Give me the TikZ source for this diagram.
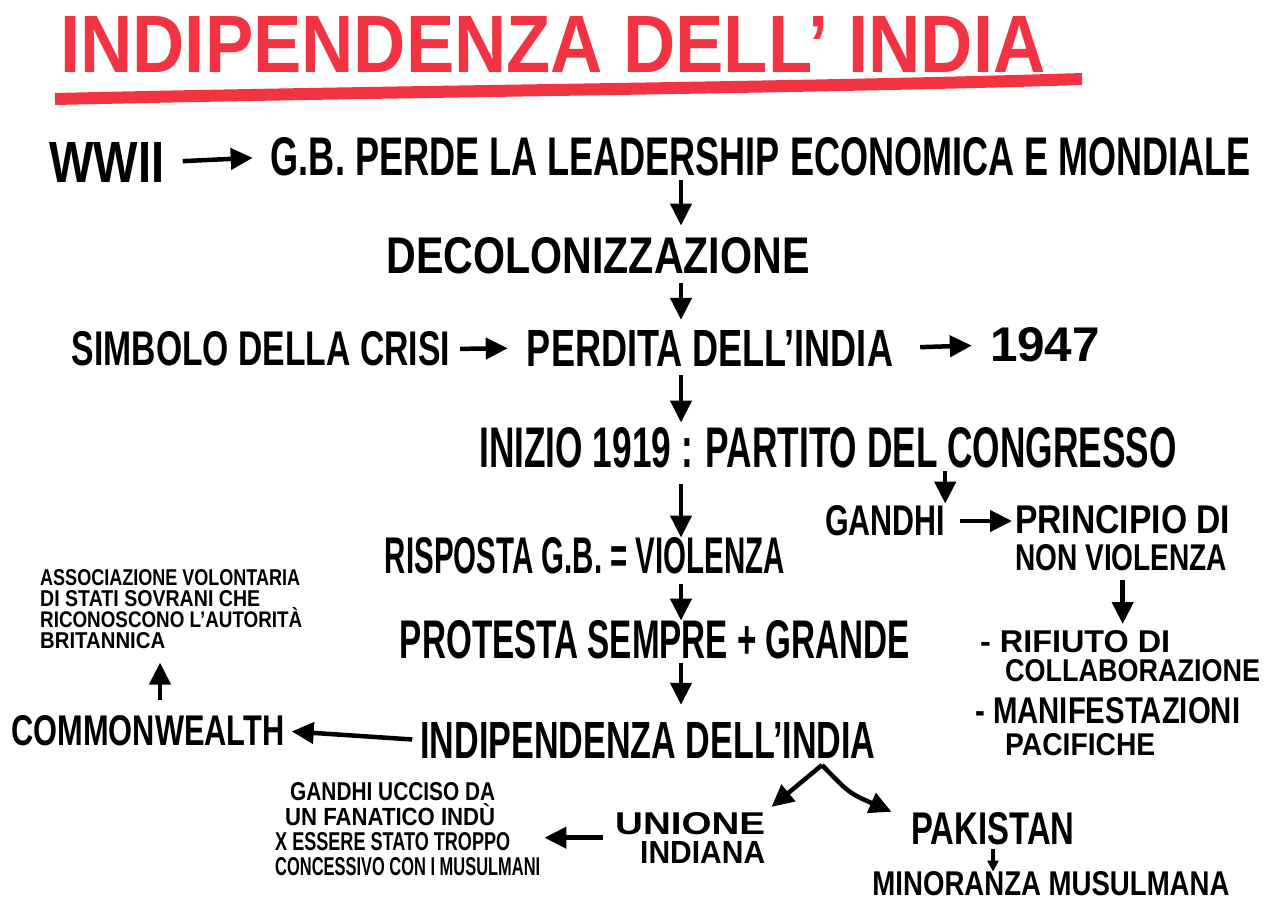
\documentclass[tikz,border=0pt]{standalone}
\usepackage{fontspec}
\setmainfont{Liberation Sans}
\usepackage{tikz}
\usetikzlibrary{arrows.meta}
\tikzset {>={Triangle[length=22pt,width=21pt]}}
\definecolor{marker}{RGB}{242,52,66}
\newcommand{\hw}[3]{\resizebox{#1pt}{#2pt}{#3}}

\begin{document}
\setlength{\lineskiplimit}{-50pt}
\begin{tikzpicture}[x=1pt,y=-1pt,
  txt/.style={inner sep=0pt,font=\bfseries},
  lines/.style={inner sep=0pt,align=left,anchor=north west,font=\bfseries\fontsize{10pt}{#1}\selectfont},
  arr/.style={->,line width=4.5pt,shorten <=8pt,shorten >=10pt}]
\fill[white] (0,0) rectangle (1280,905);
\coordinate (spine) at (681,0);
\coordinate (fork) at (822,765);

\node[txt,text=marker] (title) at (553,44) {\hw{985}{56}{INDIPENDENZA DELL' INDIA}};
\draw[marker,line width=12pt] (55,99) .. controls (400,91) and (800,88) .. (1082,79);

\node[txt] (wwii) at (107,162) {\hw{115}{40}{WWII}};
\node[txt] (gb) at (761,157) {\hw{980}{38}{G.B. PERDE LA LEADERSHIP ECONOMICA E MONDIALE}};
\node[txt] (deco) at (598,256) {\hw{423}{36}{DECOLONIZZAZIONE}};
\node[txt] (simbolo) at (261,349) {\hw{378}{34}{SIMBOLO DELLA CRISI}};
\node[txt] (perdita) at (710,348) {\hw{366}{36}{PERDITA DELL'INDIA}};
\node[txt] (anno) at (1045,345) {\hw{110}{34}{1947}};
\node[txt] (inizio) at (828,448) {\hw{697}{40}{INIZIO 1919 : PARTITO DEL CONGRESSO}};
\node[txt] (risposta) at (585,556) {\hw{400}{36}{RISPOSTA G.B. = VIOLENZA}};
\node[txt] (gandhi) at (885,521) {\hw{120}{30}{GANDHI}};
\node[lines=37pt] (principio) at (1015,505) {\hw{215}{28}{PRINCIPIO DI}\\\hw{212}{26}{NON VIOLENZA}};
\node[lines=29pt] (rifiuto) at (980,630) {\hw{190}{22}{- RIFIUTO DI}\\\hspace*{25pt}\hw{255}{22}{COLLABORAZIONE}};
\node[lines=32pt] (manif) at (975,697) {\hw{265}{26}{- MANIFESTAZIONI}\\\hspace*{30pt}\hw{150}{22}{PACIFICHE}};
\node[txt] (protesta) at (655,640) {\hw{510}{38}{PROTESTA SEMPRE + GRANDE}};
\node[txt] (indip) at (648,740) {\hw{455}{36}{INDIPENDENZA DELL'INDIA}};
\node[txt] (common) at (148,731) {\hw{273}{30}{COMMONWEALTH}};
\node[lines=21pt] (assoc) at (40,569) {\hw{260}{16}{ASSOCIAZIONE VOLONTARIA}\\\hw{220}{16}{DI STATI SOVRANI CHE}\\\hw{262}{20}{RICONOSCONO L'AUTORITÀ}\\\hw{125}{16}{BRITANNICA}};
\node[lines=25pt] (ucciso) at (275,782) {\hspace*{15pt}\hw{205}{18}{GANDHI UCCISO DA}\\\hspace*{10pt}\hw{210}{22}{UN FANATICO INDÙ}\\\hw{235}{18}{X ESSERE STATO TROPPO}\\\hw{265}{18}{CONCESSIVO CON I MUSULMANI}};
\node[lines=29pt] (unione) at (615,812) {\hw{150}{22}{UNIONE}\\\hspace*{25pt}\hw{125}{22}{INDIANA}};
\node[txt] (pakistan) at (993,829) {\hw{163}{32}{PAKISTAN}};
\node[txt] (minoranza) at (1051,884) {\hw{357}{24}{MINORANZA MUSULMANA}};

\draw[arr,shorten <=18pt,shorten >=18pt] (wwii.east) -- (gb.west);
\draw[arr,shorten <=4pt,shorten >=12pt] (gb.south -| spine) -- (deco.north -| spine);
\draw[arr,shorten <=9pt,shorten >=10pt] (deco.south -| spine) -- (perdita.north -| spine);
\draw[arr,shorten <=10pt,shorten >=19pt] (simbolo.east) -- (perdita.west);
\draw[arr,shorten <=27pt,shorten >=18pt] (perdita.east) -- (anno.west);
\draw[arr,shorten <=9pt,shorten >=5pt] (perdita.south -| spine) -- (inizio.north -| spine);
\draw[arr,shorten <=16pt,shorten >=0pt] (inizio.south -| spine) -- (risposta.north -| spine);
\draw[arr,shorten <=3pt,shorten >=2pt] (inizio.south -| gandhi.north east) -- (gandhi.north east);
\draw[arr,shorten <=15pt,shorten >=3pt] (gandhi.east) -- (gandhi.east -| principio.west);
\draw[arr,shorten <=9pt,shorten >=6pt] (principio.south) -- (principio.south |- rifiuto.north);
\draw[arr,shorten <=10pt,shorten >=0pt] (risposta.south -| spine) -- (protesta.north -| spine);
\draw[arr,shorten <=4pt,shorten >=17pt] (protesta.south -| spine) -- (indip.north -| spine);
\draw[arr,shorten <=8pt,shorten >=7pt] (indip.west) -- (common.east);
\draw[arr,shorten <=16pt,shorten >=14pt] ([xshift=12pt]common.north) -- ([xshift=12pt]common.north |- assoc.south);
\draw[arr,shorten <=0pt,shorten >=8pt] (fork) -- (unione.north east);
\draw[arr,shorten <=0pt,shorten >=2pt] (fork) .. controls (849,793) .. ([xshift=-18pt]pakistan.north west);
\draw[arr,shorten <=12pt,shorten >=4pt] (unione.west) -- (unione.west -| ucciso.east);
\draw[->,line width=3.5pt,shorten <=4pt,>={Triangle[length=11pt,width=11pt]}] (pakistan.south) -- (pakistan.south |- minoranza.north);
\end{tikzpicture}
\end{document}
